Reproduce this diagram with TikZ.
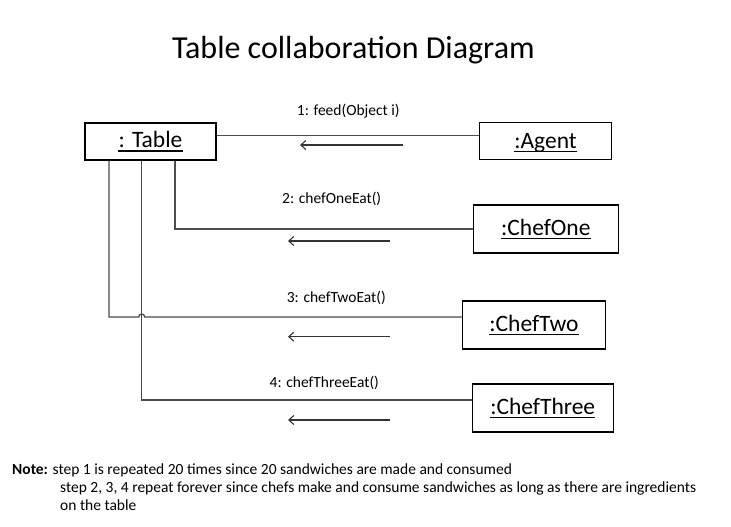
\documentclass[tikz,border=0pt]{standalone}
\usepackage{fontspec}
\setmainfont{Carlito}
\usetikzlibrary{positioning, arrows.meta}

\begin{document}
\begin{tikzpicture}[
    x=1pt, y=-1pt,
    objbox/.style={rectangle, draw=black, line width=1.2pt, inner sep=0pt},
    objname/.style={anchor=base, inner sep=0pt, font=\fontsize{23.5}{28}\selectfont},
    uline/.style={draw=black, line width=1.5pt},
    link/.style={draw=black!70, line width=1.3pt},
    msg/.style={draw=black!80, line width=1.1pt, -{Straight Barb[length=5pt, width=9pt]}},
    msglabel/.style={font=\fontsize{15.5}{18}\selectfont, inner sep=0pt},
]
\useasboundingbox (0,0) rectangle (731,527);

% Title
\node [font=\fontsize{32}{36}\selectfont, anchor=base] (title) at (353.4,58.3) {Table collaboration Diagram};

% Objects
\node [objbox, minimum width=131pt, minimum height=37pt] (table) at (150.5,141.5) {};
\node [objbox, minimum width=132pt, minimum height=37pt] (agent) at (545.5,141) {};
\node [objbox, minimum width=145pt, minimum height=48pt] (chefone) at (545.8,229) {};
\node [objbox, minimum width=143pt, minimum height=48pt] (cheftwo) at (534,325) {};
\node [objbox, minimum width=141pt, minimum height=48pt] (chefthree) at (542.7,408) {};

\node [objname] (tablename) at ([yshift=-6pt]table.center) {: Table};
\node [objname] (agentname) at ([yshift=-7pt]agent.center) {:Agent};
\node [objname] (chefonename) at ([yshift=-6pt]chefone.center) {:ChefOne};
\node [objname] (cheftwoname) at ([yshift=-6pt]cheftwo.center) {:ChefTwo};
\node [objname] (chefthreename) at ([yshift=-6pt]chefthree.center) {:ChefThree};

% underlines
\draw [uline] ([yshift=-3.5pt]tablename.base west) -- ([yshift=-3.5pt]tablename.base east);
\draw [uline] ([yshift=-3.5pt]agentname.base west) -- ([yshift=-3.5pt]agentname.base east);
\draw [uline] ([yshift=-3.5pt]chefonename.base west) -- ([yshift=-3.5pt]chefonename.base east);
\draw [uline] ([yshift=-3.5pt]cheftwoname.base west) -- ([yshift=-3.5pt]cheftwoname.base east);
\draw [uline] ([yshift=-3.5pt]chefthreename.base west) -- ([yshift=-3.5pt]chefthreename.base east);

% Message labels
\node [msglabel] (feed) at (348.3,110.7) {1: feed(Object i)};
\node [msglabel] (oneeat) at (331.7,199) {2: chefOneEat()};
\node [msglabel] (twoeat) at (336.3,298) {3: chefTwoEat()};
\node [msglabel] (threeeat) at (324.3,383) {4: chefThreeEat()};

% Helper points
\coordinate (c3) at (109,317);
\coordinate (c4) at (141.7,400);
\coordinate (hopl) at (138.7,317);

% Links
\draw [link] ([yshift=6pt]table.east) -- ([yshift=6pt]table.east -| agent.west);
\draw [link] ([xshift=24.5pt]table.south) |- (chefone.west);
\draw [link] (table.south -| c3) -- (c3) -- (hopl) arc[start angle=180, end angle=360, radius=3] -- (cheftwo.west |- c3);
\draw [link] (table.south -| c4) -- (c4) -- (chefthree.west |- c4);

% Message arrows
\coordinate (m1a) at (403,145);
\coordinate (m1b) at (300,145);
\coordinate (m2a) at (390,241);
\coordinate (m2b) at (288,241);
\coordinate (m3a) at (390,336.7);
\coordinate (m3b) at (288,336.7);
\coordinate (m4a) at (390,420);
\coordinate (m4b) at (288,420);
\draw [msg] (m1a) -- (m1b);
\draw [msg] (m2a) -- (m2b);
\draw [msg] (m3a) -- (m3b);
\draw [msg] (m4a) -- (m4b);

% Note
\node [msglabel, anchor=west] (note) at (12,470) {\textbf{Note:} step 1 is repeated 20 times since 20 sandwiches are made and consumed};
\node [msglabel, anchor=north west, align=left] (note2) at (60,482) {step 2, 3, 4 repeat forever since chefs make and consume sandwiches as long as there are ingredients\\on the table};

\end{tikzpicture}
\end{document}
